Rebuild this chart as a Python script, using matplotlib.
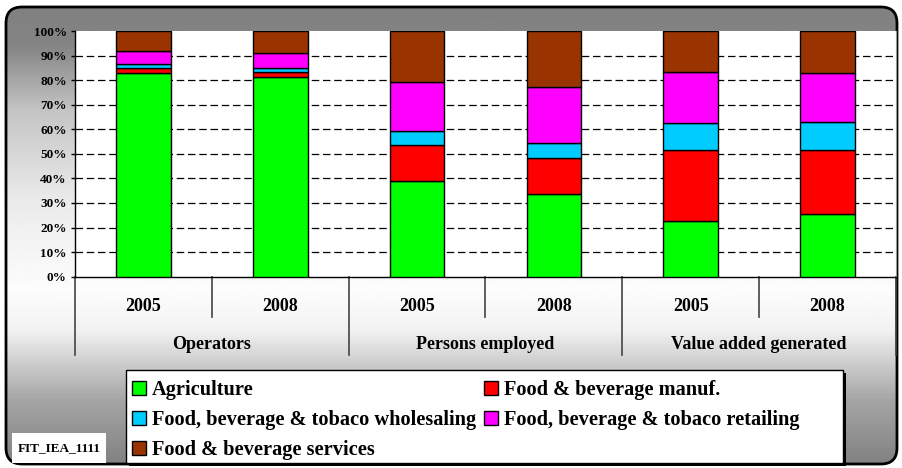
import numpy as np
import matplotlib.pyplot as plt
from matplotlib.patches import FancyBboxPatch, Rectangle, Patch

plt.rcParams['font.family'] = ['Liberation Serif', 'DejaVu Serif']
plt.rcParams['font.weight'] = 'bold'

groups = ['Operators', 'Persons employed', 'Value added generated']
years = ['2005', '2008', '2005', '2008', '2005', '2008']
sectors = ['Agriculture', 'Food & beverage manuf.',
           'Food, beverage & tobaco wholesaling',
           'Food, beverage & tobaco retailing',
           'Food & beverage services']
agriculture = [83.0, 81.4, 39.1, 33.5, 22.8, 25.5]
manuf = [1.8, 1.8, 14.5, 14.7, 28.8, 26.1]
wholesaling = [1.6, 1.7, 5.7, 6.1, 10.8, 11.2]
retailing = [5.3, 6.1, 19.9, 22.8, 20.8, 20.2]
services = [8.3, 9.0, 20.8, 22.9, 16.8, 17.0]
colors = ['#00FF00', '#FF0000', '#00CCFF', '#FF00FF', '#993300']

W, H = 902, 468
fig = plt.figure(figsize=(W / 100, H / 100), dpi=100)

# background: rounded frame with grey gradient, pixel coordinates
bg = fig.add_axes([0, 0, 1, 1], zorder=-10)
bg.set_xlim(0, W)
bg.set_ylim(H, 0)
bg.axis('off')
ys = np.linspace(0, H, 200)
shade = np.interp(ys, [0, 45, 110, 200, 290, 330, 400, 468],
                  [0.50, 0.52, 0.77, 0.92, 0.99, 0.95, 0.65, 0.50])
frame = FancyBboxPatch((6, 7), 891, 457, boxstyle='round,pad=0,rounding_size=16',
                       facecolor='none', edgecolor='black', lw=2, zorder=3)
bg.add_patch(frame)
img = bg.imshow(shade[:, None], extent=[0, W, H, 0], aspect='auto',
                cmap='gray', vmin=0, vmax=1, zorder=1)
img.set_clip_path(frame)

# legend box with shadow
bg.add_patch(Rectangle((129, 373), 717, 93, facecolor='black', zorder=4))
bg.add_patch(Rectangle((126, 370), 717, 93, facecolor='white',
                       edgecolor='black', lw=1, zorder=5))
# id box
bg.add_patch(Rectangle((12, 433), 94, 30, facecolor='white', edgecolor='none', zorder=5))
bg.text(59, 448, 'FIT_IEA_1111', ha='center', va='center', fontsize=9.5,
        fontweight='bold', zorder=6)

# main chart
ax = fig.add_axes([75 / W, 1 - 276.7 / H, (896 - 75) / W, (276.7 - 31) / H])
x = np.arange(len(years))
series = [agriculture, manuf, wholesaling, retailing, services]
bottom = np.zeros(len(years))
handles = []
for vals, col, name in zip(series, colors, sectors):
    ax.bar(x, vals, width=0.4, bottom=bottom, color=col, edgecolor='black',
           lw=1, zorder=3)
    bottom += np.array(vals)
    handles.append(Patch(facecolor=col, edgecolor='black', label=name))

ax.set_xlim(-0.5, 5.5)
ax.set_ylim(0, 100)
ticks = np.arange(0, 101, 10)
ax.set_yticks(ticks)
ax.set_yticklabels(['%d%%' % t for t in ticks], fontsize=9.5, fontweight='bold')
ax.tick_params(axis='y', direction='out', length=3, width=1, pad=3)
ax.set_xticks([])
for t in ticks[1:-1]:
    ax.axhline(t, color='black', lw=0.9, linestyle=(0, (6, 3)), zorder=1)
ax.spines['top'].set_visible(False)
ax.spines['right'].set_color('#999999')
ax.spines['left'].set_linewidth(1)
ax.spines['bottom'].set_linewidth(1)

# two-tier category axis
tr = ax.get_xaxis_transform()
for i, yr in enumerate(years):
    ax.text(i, -0.12, yr, transform=tr, ha='center', va='center',
            fontsize=13, fontweight='bold')
for b in [0.5, 2.5, 4.5]:
    ax.plot([b, b], [0, -0.164], transform=tr, color='#444444', lw=1.2, clip_on=False)
for b in [-0.5, 1.5, 3.5, 5.5]:
    ax.plot([b, b], [0, -0.319], transform=tr, color='#444444', lw=1.2, clip_on=False)
for g, name in enumerate(groups):
    ax.text(2 * g + 0.5, -0.276, name, transform=tr, ha='center', va='center',
            fontsize=13, fontweight='bold')

order = [0, 2, 4, 1, 3]
fig.legend([handles[i] for i in order], [sectors[i] for i in order], ncol=2,
           loc='upper left', bbox_to_anchor=(132 / W, 1 - 380.5 / H),
           frameon=False, prop={'size': 14.7, 'weight': 'bold'},
           borderpad=0, borderaxespad=0, handlelength=0.68, handleheight=0.68,
           handletextpad=0.3, columnspacing=0.4, labelspacing=0.47)

fig.savefig('out.png', dpi=100)
